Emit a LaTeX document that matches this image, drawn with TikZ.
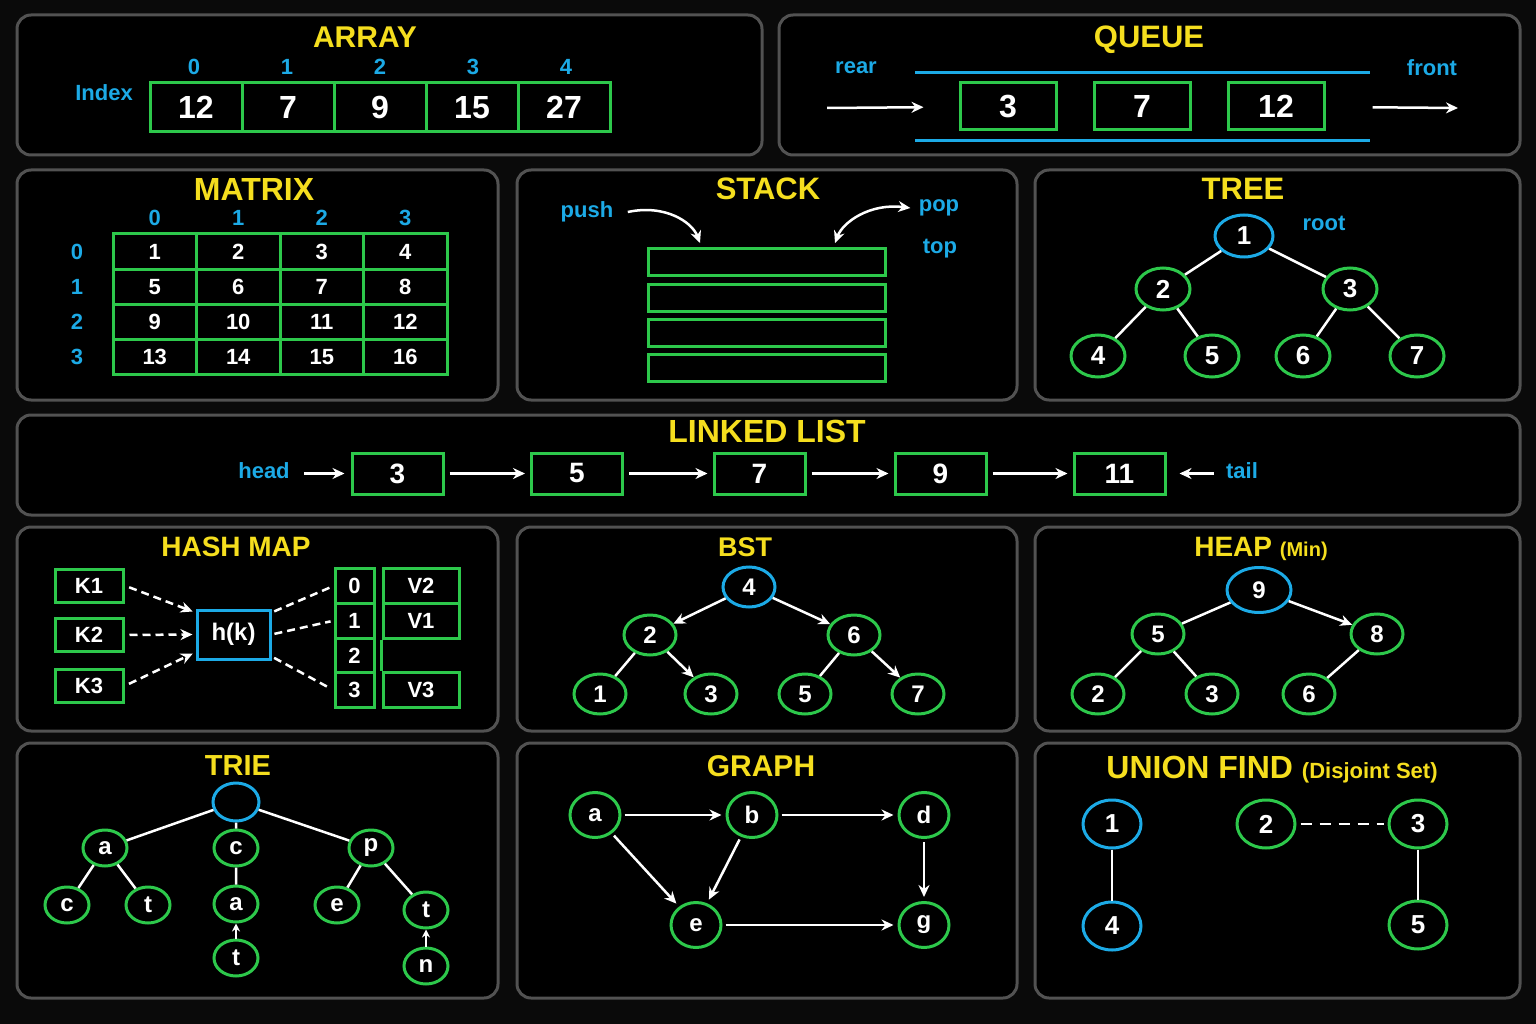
\documentclass[tikz,border=0pt]{standalone}
\usepackage{fontspec}
\setmainfont{Liberation Sans}
\usetikzlibrary{arrows.meta, shapes.geometric, positioning, calc}
\definecolor{dsgreen}{RGB}{45,200,75}
\definecolor{dsblue}{RGB}{28,170,230}
\definecolor{dsyellow}{RGB}{245,222,30}
\definecolor{dsgray}{RGB}{82,82,82}
\definecolor{dsbg}{RGB}{10,10,10}

\begin{document}
\begin{tikzpicture}[x=1pt, y=-1pt, >={Stealth[length=12pt,width=11pt]},
    panel/.style={draw=dsgray, line width=3pt, rounded corners=14pt, fill=black},
    title/.style={text=dsyellow, text depth=0pt, font=\bfseries\fontsize{#1}{#1}\selectfont},
    title/.default=30,
    lbl/.style={text=dsblue, font=\bfseries\fontsize{22}{22}\selectfont},
    cell/.style={draw=dsgreen, line width=3pt, text=white, inner sep=0pt, font=\bfseries\fontsize{22}{22}\selectfont},
    vertex/.style={ellipse, draw=dsgreen, line width=3pt, text=white, inner sep=0pt, minimum width=54pt, minimum height=42pt, font=\bfseries\fontsize{26}{26}\selectfont},
    rootvertex/.style={vertex, draw=dsblue},
    edgeline/.style={draw=white, line width=2.5pt},
    dashline/.style={edgeline, dash pattern=on 8pt off 5pt},
  ]
  \fill[dsbg] (0,0) rectangle (1536,1024);

  % panels
  \draw[panel] (17,15) rectangle (762,155);
  \draw[panel] (779,15) rectangle (1520,155);
  \draw[panel] (17,170) rectangle (498,400);
  \draw[panel] (517,170) rectangle (1017,400);
  \draw[panel] (1035,170) rectangle (1520,400);
  \draw[panel] (17,415) rectangle (1520,515);
  \draw[panel] (17,527) rectangle (498,731);
  \draw[panel] (517,527) rectangle (1017,731);
  \draw[panel] (1035,527) rectangle (1520,731);
  \draw[panel] (17,743) rectangle (498,998);
  \draw[panel] (517,743) rectangle (1017,998);
  \draw[panel] (1035,743) rectangle (1520,998);

  % array
  \node[title] (arrayt) at (365,37) {ARRAY};
  \node[lbl] (index) at (104,93) {Index};
  \foreach \v [count=\i from 0] in {12,7,9,15,27} {
    \node[cell, minimum width=92pt, minimum height=49pt, font=\bfseries\fontsize{32}{32}\selectfont] (arr\i) at (196+92*\i,107.5) {\v};
    \node[lbl] (arri\i) at (194+93*\i,67) {\i};
  }

  % queue
  \node[title=31] (queuet) at (1149,37) {QUEUE};
  \node[lbl] (rear) at (856,68) {rear};
  \node[lbl] (front) at (1432,68) {front};
  \draw[dsblue, line width=3pt] (915,73) -- (1370,73);
  \draw[dsblue, line width=3pt] (915,141) -- (1370,141);
  \foreach \v [count=\i from 0] in {3,7,12}
    \node[cell, minimum width=96pt, minimum height=47pt, font=\bfseries\fontsize{32}{32}\selectfont] (q\i) at (1008+134*\i,106.5) {\v};
  \coordinate (qin) at (827,108);
  \coordinate (qout) at (1458,108);
  \draw[edgeline, ->, shorten >=35pt] (qin) -- (q0);
  \draw[edgeline, ->, shorten <=47pt] (q2) -- (qout);

  % matrix
  \node[title=32] (matrixt) at (254,189) {MATRIX};
  \foreach \j in {0,...,3}
    \node[lbl] (mc\j) at (154.75+83.5*\j,218) {\j};
  \foreach \i in {0,...,3} {
    \node[lbl] (mr\i) at (77,251.6+35.25*\i) {\i};
    \foreach \j in {0,...,3} {
      \pgfmathtruncatemacro{\v}{4*\i+\j+1}
      \node[cell, minimum width=83.5pt, minimum height=35.25pt] (m\i\j) at (154.75+83.5*\j,251.6+35.25*\i) {\v};
    }
  }

  % stack
  \node[title=31] (stackt) at (768,189) {STACK};
  \foreach \i in {0,...,3}
    \node[cell, minimum width=237pt, minimum height=27pt] (s\i) at (766.5,262.5+35.3*\i) {};
  \node[lbl] (push) at (587,212) {push};
  \node[lbl] (pop) at (939,208) {pop};
  \node[lbl] (top) at (940,249) {top};
  \coordinate (pushend) at (700,243);
  \coordinate (popend) at (835,243);
  \draw[edgeline, ->] ([xshift=11pt]push.east) .. controls (665,204) and (692,222) .. (pushend);
  \draw[edgeline, <->] (popend) .. controls (843,222) and (870,203) .. ([xshift=-5pt]pop.west);

  % tree
  \node[title=31] (treet) at (1243,189) {TREE};
  \node[rootvertex, minimum width=58pt] (t1) at (1244,236) {1};
  \node[vertex] (t2) at (1163,289) {2};
  \node[vertex] (t3) at (1350,289) {3};
  \node[vertex] (t4) at (1098,356) {4};
  \node[vertex] (t5) at (1212,356) {5};
  \node[vertex] (t6) at (1303,356) {6};
  \node[vertex] (t7) at (1417,356) {7};
  \node[lbl] (rootl) at (1324,223) {root};
  \draw[edgeline] (t1) -- (t2) (t1) -- (t3) (t2) -- (t4) (t2) -- (t5) (t3) -- (t6) (t3) -- (t7);

  % linked list
  \node[title=32] (listt) at (767,431) {LINKED LIST};
  \foreach \v/\x [count=\i] in {3/397.5,5/577,7/759.5,9/940.5,11/1119.5}
    \node[cell, minimum width=91pt, minimum height=41pt, font=\bfseries\fontsize{28}{28}\selectfont] (l\i) at (\x,473.5) {\v};
  \foreach \i [evaluate=\i as \j using int(\i+1)] in {1,...,4}
    \draw[edgeline, ->, shorten <=5pt, shorten >=5pt] (l\i) -- (l\j);
  \node[lbl] (head) at (264,471) {head};
  \node[lbl] (tail) at (1242,471) {tail};
  \coordinate (headc) at (304,473.5);
  \coordinate (tailc) at (1214,473.5);
  \draw[edgeline, ->, shorten >=6pt] (headc) -- (l1);
  \draw[edgeline, ->, shorten >=13pt] (tailc) -- (l5);

  % hash map
  \node[title=28] (hasht) at (236,547) {HASH MAP};
  \foreach \k/\y in {1/585.5,2/635,3/686}
    \node[cell, minimum width=68pt, minimum height=33pt] (k\k) at (89,\y) {K\k};
  \node[cell, draw=dsblue, minimum width=73pt, minimum height=49pt, font=\bfseries\fontsize{24}{24}\selectfont] (hk) at (233.5,634.5) {h(k)};
  \foreach \i in {0,...,3}
    \node[cell, minimum width=39pt, minimum height=34.7pt] (h\i) at (354.5,586+34.7*\i) {\i};
  \node[cell, minimum width=76pt, minimum height=34.7pt] (v0) at (421,586) {V2};
  \node[cell, minimum width=76pt, minimum height=34.7pt] (v1) at (421,620.7) {V1};
  \node[cell, minimum width=76pt, minimum height=34.7pt] (v3) at (421,690.1) {V3};
  \draw[dsgreen, line width=3pt] (v1.south west) -- (v3.north west);
  \draw[dashline, ->, shorten <=5pt, shorten >=3pt] (k1.east) -- (hk.150);
  \draw[dashline, ->, shorten <=5pt, shorten >=3pt] (k2.east) -- (hk.west);
  \draw[dashline, ->, shorten <=5pt, shorten >=3pt] (k3.east) -- (hk.205);
  \draw[dashline, shorten <=3pt, shorten >=3pt] (hk.30) -- (h0.west);
  \draw[dashline, shorten <=3pt, shorten >=3pt] (hk.east) -- (h1.west);
  \draw[dashline, shorten <=3pt, shorten >=3pt] (hk.330) -- (h3.west);

  % bst
  \node[title=27] (bstt) at (745,547) {BST};
  \begin{scope}[vertex/.append style={minimum width=52pt, minimum height=40pt, font=\bfseries\fontsize{24}{24}\selectfont}]
    \node[rootvertex] (b4) at (749,587) {4};
    \node[vertex] (b2) at (650,635) {2};
    \node[vertex] (b6) at (854,635) {6};
    \node[vertex] (b1) at (600,694) {1};
    \node[vertex] (b3) at (711,694) {3};
    \node[vertex] (b5) at (805,694) {5};
    \node[vertex] (b7) at (918,694) {7};
  \end{scope}
  \draw[edgeline, ->] (b4) -- (b2);
  \draw[edgeline, ->] (b4) -- (b6);
  \draw[edgeline, ->] (b2) -- (b3);
  \draw[edgeline, ->] (b6) -- (b7);
  \draw[edgeline] (b2) -- (b1) (b6) -- (b5);

  % heap
  \node[title=28] (heapt) at (1261,547) {HEAP {\fontsize{20}{20}\selectfont (Min)}};
  \begin{scope}[vertex/.append style={minimum width=52pt, minimum height=40pt, font=\bfseries\fontsize{24}{24}\selectfont}]
    \node[rootvertex, minimum width=64pt, minimum height=45pt] (hp9) at (1259,590) {9};
    \node[vertex] (hp5) at (1158,634) {5};
    \node[vertex] (hp8) at (1377,634) {8};
    \node[vertex] (hp2) at (1098,694) {2};
    \node[vertex] (hp3) at (1212,694) {3};
    \node[vertex] (hp6) at (1309,694) {6};
  \end{scope}
  \draw[edgeline, ->] (hp9) -- (hp8);
  \draw[edgeline] (hp9) -- (hp5) (hp5) -- (hp2) (hp5) -- (hp3) (hp8) -- (hp6);

  % trie
  \node[title=29] (triet) at (238,766) {TRIE};
  \begin{scope}[vertex/.append style={minimum width=44pt, minimum height=36pt, font=\bfseries\fontsize{24}{24}\selectfont}]
    \node[rootvertex, minimum width=46pt, minimum height=38pt] (tr) at (236,802) {};
    \node[vertex] (ta) at (105,848) {a};
    \node[vertex] (tc) at (236,848) {c};
    \node[vertex] (tp) at (371,848) {p};
    \node[vertex] (tac) at (67,905) {c};
    \node[vertex] (tat) at (148,905) {t};
    \node[vertex] (tca) at (236,904) {a};
    \node[vertex] (tpe) at (337,905) {e};
    \node[vertex] (tpt) at (426,910) {t};
    \node[vertex] (tcat) at (236,958) {t};
    \node[vertex] (tptn) at (426,966) {n};
  \end{scope}
  \draw[edgeline] (tr) -- (ta) (tr) -- (tc) (tr) -- (tp) (ta) -- (tac) (ta) -- (tat)
    (tc) -- (tca) (tp) -- (tpe) (tp) -- (tpt);
  \draw[edgeline, -{Stealth[length=8pt,width=8pt]}] (tcat) -- (tca);
  \draw[edgeline, -{Stealth[length=8pt,width=8pt]}] (tptn) -- (tpt);

  % graph
  \node[title] (grapht) at (761,766) {GRAPH};
  \begin{scope}[vertex/.append style={minimum width=50pt, minimum height=45pt, font=\bfseries\fontsize{24}{24}\selectfont}]
    \node[vertex] (ga) at (595,815) {a};
    \node[vertex] (gb) at (752,815) {b};
    \node[vertex] (gd) at (924,815) {d};
    \node[vertex] (ge) at (696,925) {e};
    \node[vertex] (gg) at (924,925) {g};
  \end{scope}
  \foreach \s/\t in {ga/gb, gb/gd, ga/ge, gb/ge, gd/gg, ge/gg}
    \draw[edgeline, ->, shorten <=3pt, shorten >=4pt] (\s) -- (\t);

  % union find
  \node[title=32] (uft) at (1272,767) {UNION FIND {\fontsize{22}{22}\selectfont (Disjoint Set)}};
  \begin{scope}[vertex/.append style={minimum width=58pt, minimum height=48pt}]
    \node[rootvertex] (u1) at (1112,824) {1};
    \node[rootvertex] (u4) at (1112,926) {4};
    \node[vertex] (u2) at (1266,824) {2};
    \node[vertex] (u3) at (1418,824) {3};
    \node[vertex] (u5) at (1418,925) {5};
  \end{scope}
  \draw[edgeline] (u1) -- (u4) (u3) -- (u5);
  \draw[edgeline, dash pattern=on 11pt off 8pt, shorten <=4pt, shorten >=4pt] (u2) -- (u3);
\end{tikzpicture}
\end{document}
